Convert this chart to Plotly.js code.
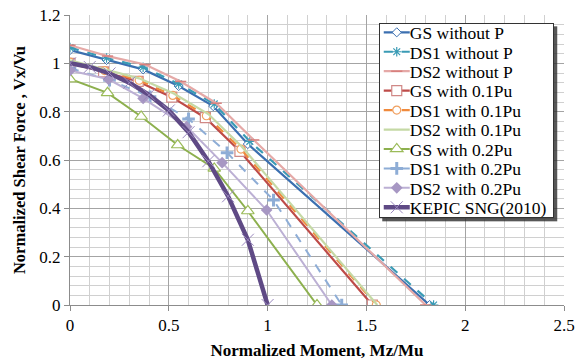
<!DOCTYPE html>
<html>
<head>
<meta charset="utf-8">
<script src="https://cdn.plot.ly/plotly-3.0.1.min.js"></script>
<style>html,body{margin:0;padding:0;background:#fff}#chart{width:587px;height:360px}</style>
</head>
<body>
<div id="chart"></div>
<script>
// Series data (x = Mz/Mu, y = Vx/Vu)
const gsNoP_x   = [0, 0.185, 0.37, 0.55, 0.725, 0.9, 1.82];
const gsNoP_y   = [1.055, 1.014, 0.975, 0.906, 0.823, 0.666, 0];
const ds1NoP_x  = [0, 0.185, 0.37, 0.55, 0.73, 0.91, 1.84];
const ds1NoP_y  = [1.065, 1.022, 0.984, 0.915, 0.832, 0.677, 0];
const ds2NoP_x  = [0, 0.19, 0.38, 0.56, 0.74, 0.93, 1.8];
const ds2NoP_y  = [1.075, 1.03, 0.995, 0.925, 0.835, 0.683, 0];
const gs01_x    = [0, 0.17, 0.345, 0.515, 0.685, 0.86, 1.53];
const gs01_y    = [1.0, 0.965, 0.925, 0.86, 0.775, 0.636, 0];
const ds101_x   = [0, 0.175, 0.35, 0.52, 0.69, 0.865, 1.55];
const ds101_y   = [1.005, 0.97, 0.93, 0.867, 0.783, 0.645, 0];
const ds201_x   = [0, 0.175, 0.35, 0.525, 0.7, 0.87, 1.555];
const ds201_y   = [1.012, 0.976, 0.938, 0.875, 0.79, 0.655, 0];
const gs02_x    = [0, 0.19, 0.36, 0.545, 0.73, 0.9, 1.25];
const gs02_y    = [0.935, 0.878, 0.78, 0.662, 0.565, 0.389, 0];
const ds102_x   = [0, 0.2, 0.405, 0.6, 0.795, 1.03, 1.375];
const ds102_y   = [0.98, 0.93, 0.862, 0.77, 0.63, 0.434, 0];
const ds202_x   = [0, 0.195, 0.37, 0.59, 0.77, 0.995, 1.325];
const ds202_y   = [0.97, 0.934, 0.855, 0.738, 0.589, 0.393, 0];
const kepic_x   = [0, 0.1, 0.2, 0.3, 0.4, 0.5, 0.6, 0.7, 0.8, 0.9, 1.0];
const kepic_y   = [1.0, 0.985, 0.958, 0.92, 0.87, 0.805, 0.715, 0.595, 0.45, 0.27, 0];

const names = ["GS without P","DS1 without P","DS2 without P","GS with 0.1Pu","DS1 with 0.1Pu",
               "DS2 with 0.1Pu","GS with 0.2Pu","DS1 with 0.2Pu","DS2 with 0.2Pu","KEPIC SNG(2010)"];

function tr(x, y, name, color, width, dash, mode, marker) {
  return {x: x, y: y, name: name, type: 'scatter', mode: mode,
          line: {color: color, width: width, dash: dash}, marker: marker};
}
const traces = [
  tr(gsNoP_x, gsNoP_y, names[0], '#3B6FB0', 2.2, 'solid', 'lines+markers',
     {symbol:'diamond', size:7, color:'#fff', line:{color:'#3B6FB0', width:1}}),
  tr(ds1NoP_x, ds1NoP_y, names[1], '#3A9BB5', 2.2, 'dash', 'lines+markers',
     {symbol:'asterisk-open', size:8, color:'#3A9BB5', line:{color:'#3A9BB5', width:1.2}}),
  tr(ds2NoP_x, ds2NoP_y, names[2], '#E5A9A7', 2.2, 'solid', 'lines+markers',
     {symbol:'line-ew-open', size:8, color:'#D8807E', line:{color:'#D8807E', width:1.5}}),
  tr(gs01_x, gs01_y, names[3], '#BE4B48', 2.2, 'solid', 'lines+markers',
     {symbol:'square', size:10, color:'#fff', line:{color:'#D08886', width:1.2}}),
  tr(ds101_x, ds101_y, names[4], '#F08A3C', 2.2, 'dash', 'lines+markers',
     {symbol:'circle', size:8, color:'#fff', line:{color:'#F0A060', width:1.2}}),
  tr(ds201_x, ds201_y, names[5], '#C5D9A5', 2.2, 'solid', 'lines', {}),
  tr(gs02_x, gs02_y, names[6], '#8DB04E', 2, 'solid', 'lines+markers',
     {symbol:'triangle-up', size:11, color:'#fff', line:{color:'#9BBB59', width:1.2}}),
  tr(ds102_x, ds102_y, names[7], '#8EADD6', 2, 'dash', 'lines+markers',
     {symbol:'cross-thin-open', size:9, color:'#8EADD6', line:{color:'#8EADD6', width:3}}),
  tr(ds202_x, ds202_y, names[8], '#BCB0D4', 2, 'solid', 'lines+markers',
     {symbol:'diamond', size:9, color:'#A797C3', line:{color:'#A797C3', width:0}}),
  tr(kepic_x, kepic_y, names[9], '#5F4A85', 4.5, 'solid', 'lines+markers',
     {symbol:'x-thin-open', size:12, color:'#9A88BE', line:{color:'#9A88BE', width:1}})
];

const font = 'Liberation Serif, Times New Roman, serif';
const layout = {
  width: 587, height: 360,
  margin: {l: 70, r: 23, t: 15, b: 55},
  paper_bgcolor: '#fff', plot_bgcolor: '#fff',
  font: {family: font, size: 17, color: '#000'},
  showlegend: true,
  legend: {x: 0.625, y: 0.973, xanchor: 'left', yanchor: 'top',
           bgcolor: '#fff', bordercolor: '#333', borderwidth: 1,
           font: {family: font, size: 17.5, color: '#000'},
           tracegroupgap: 0, itemwidth: 30},
  xaxis: {range: [0, 2.5], dtick: 0.5, tick0: 0, showgrid: true, gridcolor: '#A4A4A4', gridwidth: 1,
          minor: {dtick: 0.1, showgrid: true, gridcolor: '#D0D0D0', gridwidth: 1},
          zeroline: false, showline: true, linecolor: '#8C8C8C', linewidth: 1,
          ticks: 'outside', ticklen: 5, tickcolor: '#8C8C8C',
          tickfont: {family: font, size: 17}, fixedrange: true,
          title: {text: '<b>Normalized Moment, Mz/Mu</b>', font: {family: font, size: 17}, standoff: 9}},
  yaxis: {range: [0, 1.2], dtick: 0.2, tick0: 0, showgrid: true, gridcolor: '#A4A4A4', gridwidth: 1,
          minor: {dtick: 0.04, showgrid: true, gridcolor: '#D0D0D0', gridwidth: 1},
          zeroline: false, showline: true, linecolor: '#8C8C8C', linewidth: 1,
          ticks: 'outside', ticklen: 5, tickcolor: '#8C8C8C',
          tickfont: {family: font, size: 17}, fixedrange: true,
          title: {text: '<b>Normalized Shear Force , Vx/Vu</b>', font: {family: font, size: 16.5}, standoff: 9}}
};

Plotly.newPlot('chart', traces, layout, {staticPlot: true, displayModeBar: false}).then(function(gd) {
  // Compact the legend to match an Excel-style legend box with drop shadow
  const leg = gd.querySelector('.legend');
  if (!leg) return;
  const bg = leg.querySelector('.bg');
  const W = 174, H = 194, first = 9, step = 19.44;
  const bgRect = bg.getBoundingClientRect();
  const items = leg.querySelectorAll('.traces');
  items.forEach(function(it, i) {
    const ref = it.querySelector('.legendlines path') || it.querySelector('.legendpoints path');
    const r = ref.getBoundingClientRect();
    const cy = (r.top + r.bottom) / 2;
    const want = bgRect.top + first + step * i;
    const m = /translate\(\s*([-\d.e]+)[ ,]+([-\d.e]+)\s*\)/.exec(it.getAttribute('transform') || '');
    const tx = m ? parseFloat(m[1]) : 0, ty = m ? parseFloat(m[2]) : 0;
    it.setAttribute('transform', 'translate(' + tx + ',' + (ty + want - cy) + ')');
    it.querySelectorAll('.legendlines path').forEach(function(p) { p.setAttribute('d', 'M4,0h26'); });
    it.querySelectorAll('.legendpoints path.scatterpts').forEach(function(p) {
      p.setAttribute('transform', 'translate(17,0)');
    });
    const t = it.querySelector('.legendtext');
    if (t) t.setAttribute('x', 30);
  });
  bg.setAttribute('width', W);
  bg.setAttribute('height', H);
  const ns = 'http://www.w3.org/2000/svg';
  const sh = document.createElementNS(ns, 'rect');
  sh.setAttribute('x', (parseFloat(bg.getAttribute('x')) || 0) + 3);
  sh.setAttribute('y', (parseFloat(bg.getAttribute('y')) || 0) + 3);
  sh.setAttribute('width', W + 1);
  sh.setAttribute('height', H + 1);
  sh.setAttribute('fill', 'rgba(45,45,45,0.8)');
  leg.insertBefore(sh, bg);
});
</script>
</body>
</html>
